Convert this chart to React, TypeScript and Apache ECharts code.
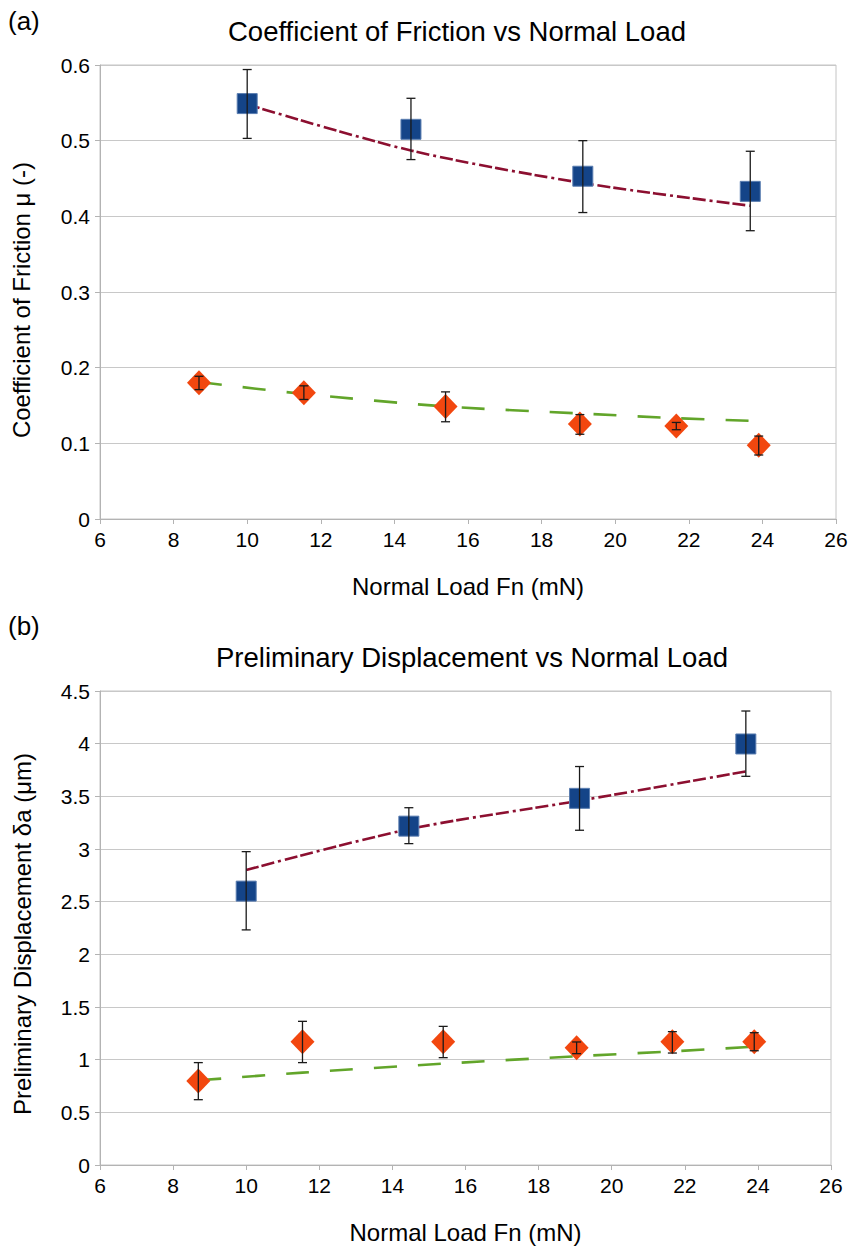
import React, { useEffect, useRef } from "react";
import * as echarts from "echarts";

// ---------- data (a) Coefficient of friction ----------
const aSquareX = [10, 14.45, 19.12, 23.67];
const aSquareY = [0.549, 0.515, 0.453, 0.433];
const aSquareLo = [0.503, 0.475, 0.405, 0.381];
const aSquareHi = [0.594, 0.556, 0.5, 0.486];
const aSquareTrend = [
  [10, 0.548],
  [14.45, 0.487],
  [19.12, 0.444],
  [23.67, 0.414],
];

const aDiamondX = [8.69, 11.54, 15.39, 19.04, 21.66, 23.9];
const aDiamondY = [0.18, 0.1667, 0.1487, 0.1254, 0.1228, 0.0974];
const aDiamondLo = [0.171, 0.158, 0.1285, 0.112, 0.118, 0.0846];
const aDiamondHi = [0.1886, 0.176, 0.168, 0.138, 0.1276, 0.1096];
const aDiamondTrend = [
  [8.69, 0.181],
  [11.54, 0.1653],
  [15.39, 0.1487],
  [19.04, 0.1395],
  [21.66, 0.1333],
  [23.63, 0.1298],
];

// ---------- data (b) Preliminary displacement ----------
const bSquareX = [10, 14.45, 19.12, 23.67];
const bSquareY = [2.6, 3.217, 3.481, 3.997];
const bSquareLo = [2.232, 3.051, 3.178, 3.69];
const bSquareHi = [2.975, 3.392, 3.783, 4.31];
const bSquareTrend = [
  [10, 2.8],
  [14.45, 3.188],
  [19.12, 3.459],
  [23.67, 3.736],
];

const bDiamondX = [8.69, 11.54, 15.39, 19.04, 21.66, 23.9];
const bDiamondY = [0.797, 1.171, 1.171, 1.114, 1.171, 1.171];
const bDiamondLo = [0.62, 0.972, 1.019, 1.057, 1.063, 1.085];
const bDiamondHi = [0.972, 1.364, 1.316, 1.168, 1.266, 1.256];
const bDiamondTrend = [
  [8.69, 0.804],
  [11.54, 0.877],
  [15.39, 0.962],
  [19.04, 1.032],
  [21.66, 1.079],
  [23.74, 1.12],
];

// ---------- text ----------
const titleA = "Coefficient of Friction vs Normal Load";
const titleB = "Preliminary Displacement vs Normal Load";
const xName = "Normal Load Fn (mN)";
const yNameA = "Coefficient of Friction μ (-)";
const yNameB = "Preliminary Displacement δa (μm)";

const FONT = "'Liberation Sans', Arial, Helvetica, sans-serif";
const SQUARE_COLOR = "#144488";
const DIAMOND_COLOR = "#f2470f";
const RED = "#8c0f30";
const GREEN = "#62a52a";

function zip(xs: number[], ys: number[]) {
  return xs.map((x, i) => [x, ys[i]]);
}
function zip3(xs: number[], lo: number[], hi: number[]) {
  return xs.map((x, i) => [x, lo[i], hi[i]]);
}

const errRender = (params: any, api: any) => {
  const x = api.value(0);
  const lo = api.coord([x, api.value(1)]);
  const hi = api.coord([x, api.value(2)]);
  const hw = 4.5;
  const st = { stroke: "#1a1a1a", lineWidth: 1.3 };
  return {
    type: "group",
    children: [
      { type: "line", shape: { x1: lo[0], y1: lo[1], x2: hi[0], y2: hi[1] }, style: st },
      { type: "line", shape: { x1: lo[0] - hw, y1: lo[1], x2: lo[0] + hw, y2: lo[1] }, style: st },
      { type: "line", shape: { x1: hi[0] - hw, y1: hi[1], x2: hi[0] + hw, y2: hi[1] }, style: st },
    ],
  };
};

function xAxisCfg(gridIndex: number) {
  return {
    type: "value",
    gridIndex,
    min: 6,
    max: 26,
    interval: 2,
    name: xName,
    nameLocation: "middle",
    nameGap: 55,
    nameTextStyle: { fontSize: 24, color: "#000", fontFamily: FONT },
    axisLine: { show: true, lineStyle: { color: "#b3b3b3", width: 1 } },
    axisTick: { show: true, length: 5, lineStyle: { color: "#b3b3b3" } },
    axisLabel: { fontSize: 21, color: "#000", fontFamily: FONT, margin: 10 },
    splitLine: { show: false },
  };
}

function yAxisCfg(gridIndex: number, max: number, interval: number) {
  return {
    type: "value",
    gridIndex,
    min: 0,
    max,
    interval,
    axisLine: { show: true, lineStyle: { color: "#b3b3b3", width: 1 } },
    axisTick: { show: true, length: 5, lineStyle: { color: "#b3b3b3" } },
    axisLabel: { fontSize: 21, color: "#000", fontFamily: FONT, margin: 10 },
    splitLine: { show: true, lineStyle: { color: "#c8c8c8", width: 1 } },
  };
}

function seriesFor(
  idx: number,
  sx: number[], sy: number[], slo: number[], shi: number[], strend: number[][],
  dx: number[], dy: number[], dlo: number[], dhi: number[], dtrend: number[][]
) {
  return [
    {
      type: "line",
      xAxisIndex: idx,
      yAxisIndex: idx,
      data: strend,
      smooth: 0.3,
      symbol: "none",
      lineStyle: { color: RED, width: 2.6, type: [13, 3, 13, 4, 3, 4] },
      z: 2,
    },
    {
      type: "line",
      xAxisIndex: idx,
      yAxisIndex: idx,
      data: dtrend,
      smooth: 0.3,
      symbol: "none",
      lineStyle: { color: GREEN, width: 2.6, type: [23, 21] },
      z: 2,
    },
    {
      type: "scatter",
      xAxisIndex: idx,
      yAxisIndex: idx,
      data: zip(sx, sy),
      symbol: "rect",
      symbolSize: 20,
      itemStyle: { color: SQUARE_COLOR, borderColor: "#5a7db0", borderWidth: 1, opacity: 1 },
      z: 3,
    },
    {
      type: "scatter",
      xAxisIndex: idx,
      yAxisIndex: idx,
      data: zip(dx, dy),
      symbol: "diamond",
      symbolSize: [24, 25],
      itemStyle: { color: DIAMOND_COLOR, opacity: 1 },
      z: 3,
    },
    {
      type: "custom",
      xAxisIndex: idx,
      yAxisIndex: idx,
      data: zip3(sx, slo, shi),
      encode: { x: 0, y: [1, 2] },
      renderItem: errRender,
      z: 5,
    },
    {
      type: "custom",
      xAxisIndex: idx,
      yAxisIndex: idx,
      data: zip3(dx, dlo, dhi),
      encode: { x: 0, y: [1, 2] },
      renderItem: errRender,
      z: 5,
    },
  ];
}

export default function App() {
  const ref = useRef<HTMLDivElement>(null);
  useEffect(() => {
    document.body.style.margin = "0";
    if (!ref.current) return;
    const chart = echarts.init(ref.current, undefined, { renderer: "svg" });
    const txt = (text: string, size: number) => ({
      text,
      fontSize: size,
      fontFamily: FONT,
      fill: "#000",
      textAlign: "center",
      textVerticalAlign: "middle",
    });
    const option: any = {
      animation: false,
      backgroundColor: "#ffffff",
      textStyle: { fontFamily: FONT },
      grid: [
        { left: 100, right: 17, top: 65, height: 454, show: true, borderColor: "#c4c4c4", borderWidth: 1 },
        { left: 100, right: 22, top: 691, height: 474, show: true, borderColor: "#c4c4c4", borderWidth: 1 },
      ],
      xAxis: [xAxisCfg(0), xAxisCfg(1)],
      yAxis: [yAxisCfg(0, 0.6, 0.1), yAxisCfg(1, 4.5, 0.5)],
      graphic: [
        { type: "text", left: 8, top: 8, style: { text: "(a)", fontSize: 26, fontFamily: FONT, fill: "#000" } },
        { type: "text", x: 457, y: 31, style: txt(titleA, 27.5) },
        { type: "text", left: 8, top: 613, style: { text: "(b)", fontSize: 26, fontFamily: FONT, fill: "#000" } },
        { type: "text", x: 472, y: 657, style: txt(titleB, 27.5) },
        { type: "text", x: 21, y: 300, rotation: Math.PI / 2, style: txt(yNameA, 24) },
        { type: "text", x: 22, y: 934, rotation: Math.PI / 2, style: txt(yNameB, 24) },
      ],
      series: [
        ...seriesFor(0, aSquareX, aSquareY, aSquareLo, aSquareHi, aSquareTrend,
          aDiamondX, aDiamondY, aDiamondLo, aDiamondHi, aDiamondTrend),
        ...seriesFor(1, bSquareX, bSquareY, bSquareLo, bSquareHi, bSquareTrend,
          bDiamondX, bDiamondY, bDiamondLo, bDiamondHi, bDiamondTrend),
      ],
    };
    chart.setOption(option);
    return () => chart.dispose();
  }, []);
  return (
    <div
      ref={ref}
      style={{ position: "absolute", left: 0, top: 0, width: 853, height: 1247, background: "#fff" }}
    />
  );
}
